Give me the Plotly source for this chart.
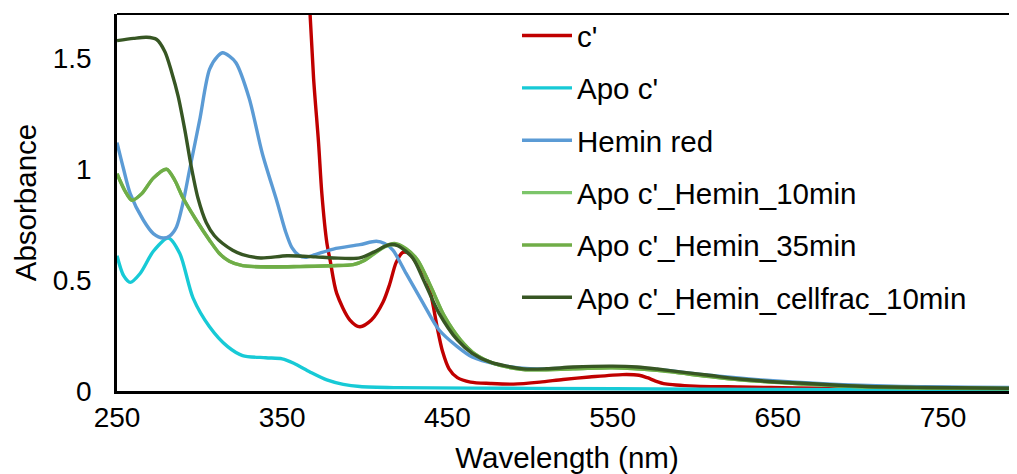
import plotly.graph_objects as go

# ---- data ----
c_prime_wl = [350, 360, 365, 369, 372, 374, 377, 379, 383, 391, 397, 404, 411, 415, 419, 423, 427, 431, 435, 438, 441, 444, 447, 451, 456, 464, 476, 490, 506, 520, 536, 556, 566, 571, 576, 582, 600, 627, 660, 720, 800]
c_prime_abs = [3.0, 2.45, 1.95, 1.41, 1.12, 0.89, 0.67, 0.59, 0.44, 0.32, 0.29, 0.32, 0.40, 0.48, 0.58, 0.625, 0.62, 0.58, 0.54, 0.50, 0.40, 0.28, 0.18, 0.10, 0.06, 0.04, 0.034, 0.031, 0.04, 0.052, 0.063, 0.074, 0.071, 0.06, 0.045, 0.032, 0.022, 0.018, 0.014, 0.01, 0.008]

apo_wl = [250, 254, 258, 264, 272, 281, 288, 296, 306, 317, 326, 340, 350, 357, 367, 377, 387, 397, 420, 500, 600, 700, 800]
apo_abs = [0.61, 0.52, 0.49, 0.53, 0.63, 0.69, 0.62, 0.42, 0.29, 0.20, 0.16, 0.15, 0.145, 0.125, 0.085, 0.05, 0.03, 0.02, 0.015, 0.012, 0.008, 0.006, 0.005]

hemin_wl = [250, 254, 258, 266, 272, 278, 282, 286, 290, 294, 300, 306, 311, 314, 318, 322, 330, 338, 347, 352, 356, 360, 364, 370, 381, 397, 407, 412, 417, 425, 435, 445, 456, 465, 480, 500, 530, 550, 577, 607, 640, 680, 720, 800]
hemin_abs = [1.12, 1.0, 0.89, 0.77, 0.71, 0.69, 0.70, 0.74, 0.85, 1.0, 1.22, 1.45, 1.51, 1.525, 1.51, 1.48, 1.32, 1.07, 0.85, 0.72, 0.645, 0.612, 0.603, 0.615, 0.64, 0.66, 0.675, 0.665, 0.635, 0.53, 0.40, 0.275, 0.20, 0.153, 0.12, 0.10, 0.105, 0.108, 0.097, 0.072, 0.05, 0.032, 0.022, 0.016]

h10_wl = [250, 255, 259, 265, 272, 280, 285, 290, 298, 306, 312, 318, 326, 345, 361, 380, 393, 400, 405, 412, 418, 425, 432, 440, 448, 458, 467, 478, 496, 526, 550, 577, 607, 627, 663, 704, 800]
h10_abs = [0.98, 0.90, 0.86, 0.89, 0.96, 1.0, 0.95, 0.87, 0.77, 0.68, 0.62, 0.585, 0.565, 0.558, 0.56, 0.565, 0.57, 0.59, 0.615, 0.65, 0.66, 0.64, 0.59, 0.47, 0.34, 0.23, 0.165, 0.125, 0.097, 0.10, 0.105, 0.093, 0.067, 0.051, 0.033, 0.019, 0.011]

h35_wl = [250, 255, 259, 265, 272, 280, 285, 290, 298, 306, 312, 318, 326, 345, 361, 380, 393, 400, 405, 412, 418, 425, 432, 440, 448, 458, 467, 478, 496, 526, 550, 577, 607, 627, 663, 704, 800]
h35_abs = [0.98, 0.90, 0.86, 0.89, 0.96, 1.0, 0.95, 0.87, 0.77, 0.68, 0.62, 0.585, 0.565, 0.56, 0.562, 0.565, 0.57, 0.59, 0.617, 0.652, 0.665, 0.642, 0.59, 0.47, 0.34, 0.23, 0.165, 0.125, 0.097, 0.10, 0.105, 0.093, 0.066, 0.05, 0.033, 0.018, 0.01]

cf_wl = [250, 260, 268, 274, 279, 283, 287, 291, 295, 299, 304, 309, 314, 320, 326, 337, 353, 370, 381, 397, 405, 415, 420, 429, 435, 445, 456, 465, 476, 496, 510, 526, 550, 565, 577, 592, 607, 627, 645, 663, 684, 704, 740, 800]
cf_abs = [1.58, 1.59, 1.595, 1.585, 1.53, 1.44, 1.33, 1.18, 1.01, 0.87, 0.76, 0.70, 0.665, 0.635, 0.615, 0.60, 0.61, 0.605, 0.60, 0.60, 0.625, 0.66, 0.655, 0.60, 0.51, 0.35, 0.23, 0.17, 0.13, 0.10, 0.10, 0.108, 0.112, 0.108, 0.099, 0.085, 0.072, 0.054, 0.043, 0.036, 0.027, 0.02, 0.016, 0.012]

series = [
    ("c'", c_prime_wl, c_prime_abs, "#C00000"),
    ("Apo c'", apo_wl, apo_abs, "#17CAD6"),
    ("Hemin red", hemin_wl, hemin_abs, "#5B9BD5"),
    ("Apo c'_Hemin_10min", h10_wl, h10_abs, "#7CC56A"),
    ("Apo c'_Hemin_35min", h35_wl, h35_abs, "#70AD47"),
    ("Apo c'_Hemin_cellfrac_10min", cf_wl, cf_abs, "#375623"),
]

x_ticks = [250, 350, 450, 550, 650, 750]
y_ticks = [0, 0.5, 1, 1.5]
y_tick_text = ["0", "0.5", "1", "1.5"]

fig = go.Figure()
for i, (name, wl, ab, col) in enumerate(series):
    fig.add_trace(go.Scatter(
        x=wl, y=ab, name=name, mode="lines",
        line=dict(color=col, width=3.4, shape="spline", smoothing=0.8),
        legendgroup=f"g{i}",
    ))

FONT = "Liberation Sans, Arial, sans-serif"
# page body has an 8px default margin, so the figure is offset by 8px
fig.update_layout(
    width=1009, height=466,
    margin=dict(l=109, r=0, t=6, b=83),
    paper_bgcolor="white", plot_bgcolor="white",
    font=dict(family=FONT, size=28, color="black"),
    showlegend=True,
    legend=dict(
        x=(517 - 117) / 900, y=1.011, xanchor="left", yanchor="top",
        bgcolor="rgba(0,0,0,0)", font=dict(size=29.5, family=FONT),
        tracegroupgap=11, itemwidth=50, maxheight=800,
    ),
    xaxis=dict(
        range=[250, 250 + 900 / 1.652], tickvals=x_ticks,
        showline=True, linecolor="black", linewidth=2.5,
        showgrid=False, zeroline=False, ticks="", automargin=False,
        title=dict(text="Wavelength (nm)", font=dict(size=29.5), standoff=18),
        tickfont=dict(size=28),
    ),
    yaxis=dict(
        range=[0, 1.7], tickvals=y_ticks, ticktext=y_tick_text,
        showline=True, linecolor="black", linewidth=2.5,
        showgrid=False, zeroline=False, ticks="", automargin=True,
        ticklabelstandoff=17,
        title=dict(text="Absorbance", font=dict(size=29.5), standoff=8),
        tickfont=dict(size=28),
    ),
    shapes=[dict(type="line", xref="paper", yref="paper", x0=0, x1=1, y0=1, y1=1,
                 line=dict(color="black", width=2))],
)

fig.write_html("out.html")
